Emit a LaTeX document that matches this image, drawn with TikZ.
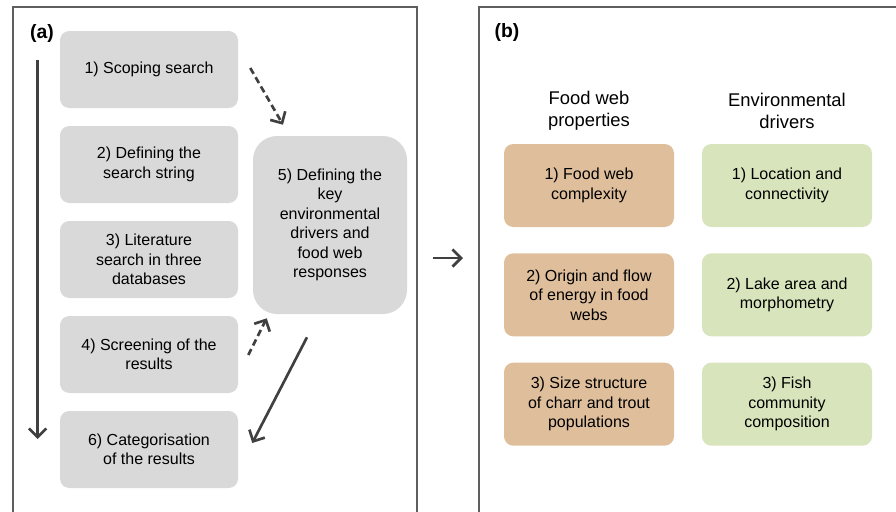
\documentclass[tikz,border=0pt]{standalone}
\usepackage{fontspec}
\setmainfont{Liberation Sans}
\usetikzlibrary{positioning, arrows.meta, calc}
\definecolor{boxgrey}{HTML}{D9D9D9}
\definecolor{foodtan}{HTML}{DFBE9C}
\definecolor{envgreen}{HTML}{D8E4BC}
\definecolor{arrowgrey}{HTML}{404040}
\definecolor{framegrey}{HTML}{5F5F5F}

\begin{document}
\begin{tikzpicture}[x=0.75pt, y=-0.75pt, node distance=71.25pt, on grid,
        stepbox/.style={rectangle, rounded corners=7pt, fill=boxgrey, align=center,
            minimum width=133.5pt, minimum height=57.75pt, inner sep=2pt,
            font=\fontsize{12}{14.6}\selectfont},
        foodbox/.style={stepbox, fill=foodtan, minimum width=127.5pt, minimum height=62.25pt},
        envbox/.style={foodbox, fill=envgreen},
        head/.style={align=center, font=\fontsize{13.8}{16.5}\selectfont},
        panel/.style={font=\fontsize{14.5}{17}\selectfont\bfseries},
        flow/.style={draw=arrowgrey, line width=2pt, -{Straight Barb[length=6.5pt, width=13pt]}},
        dashflow/.style={flow, dash pattern=on 5pt off 3pt}]

        \useasboundingbox (0,0) rectangle (896,511);

        % Frames
        \draw[framegrey, line width=0.8pt] (13,512) |- (417,7) -- (417,512);
        \draw[framegrey, line width=0.8pt] (479,512) |- (897,7);
        \node[panel] (pa) at (42,33) {(a)};
        \node[panel] (pb) at (507,32) {(b)};

        % Steps of panel (a)
        \node[stepbox] (b1) at (149,69.5) {1) Scoping search};
        \node[stepbox] (b2) [below=of b1] {2) Defining the\\search string};
        \node[stepbox] (b3) [below=of b2] {3) Literature\\search in three\\databases};
        \node[stepbox] (b4) [below=of b3] {4) Screening of the\\results};
        \node[stepbox] (b6) [below=of b4] {6) Categorisation\\of the results};
        \node[stepbox, rounded corners=18pt, minimum width=115.5pt, minimum height=133.5pt]
            (b5) at (330,225) {5) Defining the\\key\\environmental\\drivers and\\food web\\responses};

        % Panel (b)
        \node[head] (hfw) at (589,111) {Food web\\properties};
        \node[head] (hed) [right=148.5pt of hfw] {Environmental\\drivers};
        \node[foodbox] (f1) at (589,185.5) {1) Food web\\complexity};
        \node[foodbox] (f2) [below=82pt of f1] {2) Origin and flow\\of energy in food\\webs};
        \node[foodbox] (f3) [below=82pt of f2] {3) Size structure\\of charr and trout\\populations};
        \node[envbox] (e1) [right=148.5pt of f1] {1) Location and\\connectivity};
        \node[envbox] (e2) [right=148.5pt of f2] {2) Lake area and\\morphometry};
        \node[envbox] (e3) [right=148.5pt of f3] {3) Fish\\community\\composition};

        % Arrows
        \coordinate (top) at (37.7,60);
        \coordinate (bottom) at (37.7,439);
        \coordinate (ma) at (433,258);
        \coordinate (mb) at (463,258);
        \draw[flow] (top) -- (bottom);
        \draw[flow] (ma) -- (mb);
        \draw[dashflow] ($(b1.east)+(12,-1.5)$) -- ($(b5.north)+(-47,-11)$);
        \draw[dashflow] ($(b4.east)+(10,0.5)$) -- ($(b5.south west)+(14,4)$);
        \draw[flow] ($(b5.south)+(-23,23)$) -- ($(b6.east)+(14,-6.5)$);
\end{tikzpicture}
\end{document}
